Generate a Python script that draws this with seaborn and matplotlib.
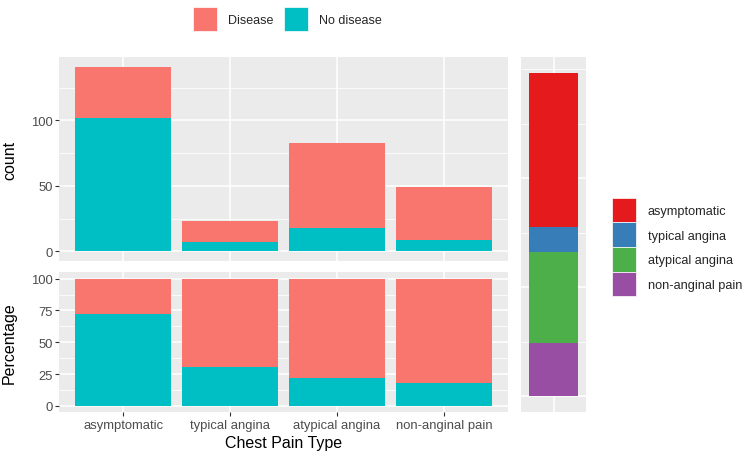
import numpy as np
import pandas as pd
import seaborn as sns
import matplotlib
matplotlib.use('Agg')
import matplotlib.pyplot as plt
from matplotlib.ticker import MultipleLocator
from matplotlib.patches import Patch

### data
cp_types = ['asymptomatic', 'typical angina', 'atypical angina', 'non-anginal pain']
disease = [39, 16, 65, 40]
no_disease = [102, 7, 18, 9]
status_labels = ['Disease', 'No disease']

RED = '#F8766D'
TEAL = '#00BFC4'
cp_colors = ['#E41A1C', '#377EB8', '#4DAF4A', '#984EA3']

total = np.array(disease) + np.array(no_disease)
pct_no = np.array(no_disease) / total * 100

#ggplot-like theme
sns.set_theme(style='darkgrid', rc={'axes.facecolor': '#EBEBEB', 'grid.color': 'white',
                                    'axes.edgecolor': '#EBEBEB'})
plt.rcParams['font.family'] = ['Liberation Sans', 'DejaVu Sans']

W, H = 745, 456
fig = plt.figure(figsize=(W / 100, H / 100), dpi=100)

def px_axes(l, t, r, b):
    return fig.add_axes([l / W, 1 - b / H, (r - l) / W, (b - t) / H])

ax1 = px_axes(59.3, 58.3, 508, 261.7)
ax2 = px_axes(59.3, 273.3, 508, 413.3)
ax3 = px_axes(521, 58.3, 586, 413.3)

def style(ax, minor):
    ax.yaxis.set_minor_locator(MultipleLocator(minor))
    ax.grid(which='major', color='white', lw=1.1)
    ax.grid(which='minor', axis='y', color='white', lw=0.55)
    ax.set_axisbelow(True)
    for s in ax.spines.values():
        s.set_visible(False)
    ax.tick_params(which='minor', length=0)
    ax.tick_params(which='major', left=True, bottom=True, length=2.75, width=0.8,
                   color='#333333', labelsize=9.4, labelcolor='#4D4D4D', pad=2.2)

#count panel (red total behind, teal in front -> stacked look)
sns.barplot(x=cp_types, y=total, color=RED, saturation=1, width=0.9, linewidth=0, ax=ax1)
sns.barplot(x=cp_types, y=no_disease, color=TEAL, saturation=1, width=0.9, linewidth=0, ax=ax1)
ax1.set_xlim(-0.6, 3.6)
ax1.set_ylim(-0.05 * total.max(), 1.05 * total.max())
ax1.set_yticks([0, 50, 100])
style(ax1, 25)
ax1.tick_params(axis='x', bottom=False, labelbottom=False)
ax1.set_ylabel('count', fontsize=11.5, color='black')
ax1.yaxis.set_label_coords(-0.094, 0.5)

#percentage panel
sns.barplot(x=cp_types, y=[100] * 4, color=RED, saturation=1, width=0.9, linewidth=0, ax=ax2)
sns.barplot(x=cp_types, y=pct_no, color=TEAL, saturation=1, width=0.9, linewidth=0, ax=ax2)
ax2.set_xlim(-0.6, 3.6)
ax2.set_ylim(-5, 105)
ax2.set_yticks([0, 25, 50, 75, 100])
style(ax2, 12.5)
ax2.set_ylabel('Percentage', fontsize=11.5, color='black')
ax2.yaxis.set_label_coords(-0.094, 0.5)
ax2.set_xlabel('Chest Pain Type', fontsize=11.5, color='black')
ax2.xaxis.set_label_coords(0.5, -0.165)

#single stacked bar of chest pain types
cum = np.cumsum(total[::-1])[::-1]   # asymptomatic on top
for c, col in zip(cum, cp_colors):
    sns.barplot(x=['all'], y=[c], color=col, saturation=1, width=0.9, linewidth=0, ax=ax3)
ax3.set_xlim(-0.6, 0.6)
ax3.set_ylim(-0.05 * cum[0], 1.05 * cum[0])
ax3.set_yticks([0, 100, 200])
style(ax3, 50)
ax3.tick_params(left=False, bottom=False, labelleft=False, labelbottom=False)
ax3.set_xlabel('')
ax3.set_ylabel('')

#legends
h1 = [Patch(facecolor=c, edgecolor='white', lw=0.5) for c in [RED, TEAL]]
fig.legend(h1, status_labels, loc='center', bbox_to_anchor=(287.5 / W, 1 - 20 / H), ncol=2,
           frameon=False, fontsize=9, handlelength=1.9, handleheight=2.58, handletextpad=0.9,
           columnspacing=0.9, borderpad=0, borderaxespad=0)

h2 = [Patch(facecolor=c, edgecolor='white', lw=0.5) for c in cp_colors]
fig.legend(h2, cp_types, loc='center left', bbox_to_anchor=(612 / W, 1 - 248 / H),
           frameon=False, fontsize=9.2, handlelength=1.9, handleheight=2.58, handletextpad=0.9,
           labelspacing=0.0, borderpad=0, borderaxespad=0)

fig.savefig('out.png', dpi=100)
